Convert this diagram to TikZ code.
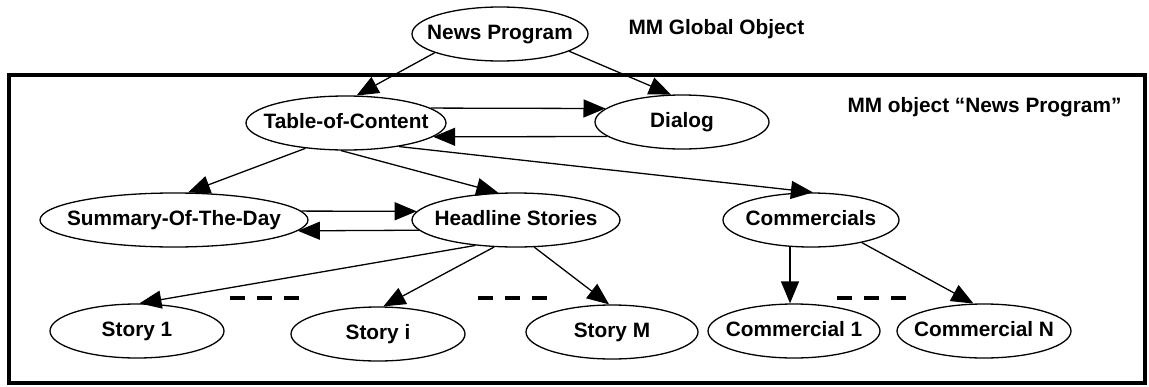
\documentclass[tikz,border=0pt]{standalone}
\usepackage{fontspec}
\setmainfont{Liberation Sans}
\usetikzlibrary{shapes.geometric,arrows.meta}
% centre a label without letting its width widen the ellipse
\newcommand{\ctext}[1]{\makebox[0pt][c]{#1}}
\begin{document}
\begin{tikzpicture}[x=1pt,y=-1pt,
  lbl/.style={font=\fontsize{20.8}{24}\selectfont\bfseries},
  obj/.style={ellipse, draw, line width=1.3pt, inner sep=0pt, lbl,
              text height=15pt, text depth=4pt, minimum height=54pt},
  link/.style={line width=1.3pt, -{Triangle[length=22pt,width=18pt]}},
  gap/.style={line width=3.5pt, dash pattern=on 15pt off 12pt}]
\useasboundingbox (0,0) rectangle (1149,386);

% frame of the object "News Program"
\draw[line width=3.5pt] (9,75) rectangle (1145,383);

% global object
\node[obj, minimum width=176pt] (np) at (500,34) {\ctext{News Program}};
\node[lbl, anchor=west] (glob) at (625,29) {MM Global Object};
\node[lbl, anchor=west] (loc) at (844,107) {MM object “News Program”};

% first level
\node[obj, minimum width=200pt] (toc) at (346,123) {\ctext{Table-of-Content}};
\node[obj, minimum width=174pt] (dlg) at (682,122) {\ctext{Dialog}};

% second level
\node[obj, minimum width=268pt] (sum) at (174,220) {\ctext{Summary-Of-The-Day}};
\node[obj, minimum width=208pt] (head) at (516,220) {\ctext{Headline Stories}};
\node[obj, minimum width=176pt] (com) at (811,220) {\ctext{Commercials}};

% leaves
\node[obj, minimum width=174pt] (s1) at (137,331) {\ctext{Story 1}};
\node[obj, minimum width=174pt] (si) at (378,334) {\ctext{Story i}};
\node[obj, minimum width=172pt] (sm) at (612,332) {\ctext{Story M}};
\node[obj, minimum width=172pt] (c1) at (794,331) {\ctext{Commercial 1}};
\node[obj, minimum width=174pt] (cn) at (984,331) {\ctext{Commercial N}};

% connectors
\draw[link] (np.196) -- (toc.69);
\draw[link] (np.346) -- (dlg.112);
\draw[link] (toc.10) -- (dlg.170);
\draw[link] (dlg.191) -- (toc.351);
\draw[link] (toc.212) -- (sum.63);
\draw[link] (toc.260) -- (head.123);
\draw[link] (toc.336) -- (com.86);
\draw[link] (sum.4) -- (head.175);
\draw[link] (head.186) -- (sum.355);
\draw[link] (head.212) -- (s1.85);
\draw[link] (head.231) -- (si.79);
\draw[link] (head.304) -- (sm.96);
\draw[link] (com.232) -- (com.232 |- c1.north);
\draw[link] (com.336) -- (cn.111);

% "and so on" marks between siblings
\draw[gap] (230,298) -- (299,298);
\draw[gap] (478,298) -- (547,298);
\draw[gap] (837,298) -- (906,298);
\end{tikzpicture}
\end{document}
